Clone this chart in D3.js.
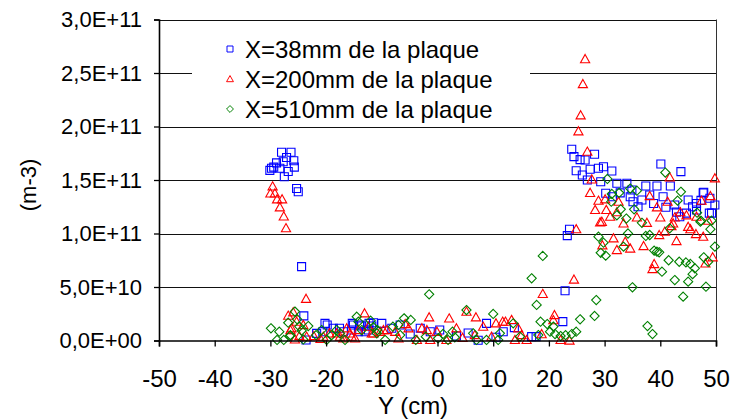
<!DOCTYPE html>
<html>
<head>
<meta charset="utf-8">
<script src="https://cdn.jsdelivr.net/npm/d3@7"></script>
<style>
  body { margin: 0; background: #fff; }
  svg { display: block; font-family: "Liberation Sans", Arial, sans-serif; }
</style>
</head>
<body>
<div id="chart"></div>
<script>
const WIDTH = 736;
const HEIGHT = 420;

// values: [Y in cm, density in units of 1e9 m-3]
const seriesNames = ['X=38mm de la plaque', 'X=200mm de la plaque', 'X=510mm de la plaque'];
const xTicks = [-50, -40, -30, -20, -10, 0, 10, 20, 30, 40, 50];
const yTicks = [0, 5e10, 1e11, 1.5e11, 2e11, 2.5e11, 3e11];

const x38 = [
  [-28.0,176],[-26.3,176],[-27.1,171],[-25.8,168],[-28.9,166],[-27.7,167],[-29.4,162],[-28.3,161],
  [-26.8,158],[-25.7,162],[-30.1,159],[-29.8,161],[-27.5,153],[-25.3,142],[-25.0,139],[-24.4,69],[-24.0,23],
  [-23.6,0.5],[-21.7,6.7],[-20.6,8.2],[-20.2,16],[-19.8,14.5],[-18.7,11.4],[-17.6,11.4],[-16.9,8.2],
  [-15.3,16],[-15.1,14.5],[-15.4,9.8],[-14.0,14.5],[-13.6,13.5],[-13.0,8.2],[-12.3,16],[-11.8,13.5],
  [-11.5,16.6],[-10.0,16],[-14.2,8.2],[-12.4,9.8],[-8.2,11.4],[-6.7,14.5],[-4.9,6.1],[-3.1,11.4],
  [-1.3,8.2],[0.4,9.8],[3.4,4.2],[5.5,7],[7.3,0.3],[8.8,16],[10.5,3],[11.8,8.2],[13.8,12],[16.9,3.6],
  [17.7,3.6],[22.5,17.6],[22.9,46.5],[23.3,98],[23.7,104],
  [24.1,178.7],[24.5,171.8],[25.6,169],[26.5,168.7],[28.2,174],[24.9,158.7],[26.0,154.7],[27.4,160],
  [28.9,161],[29.8,162.4],[31.3,158.4],[26.9,150],[29.3,148.4],[32.2,147],[34.0,147],[37.4,144.4],
  [39.4,144.4],[41.8,144.4],[40.1,165],[43.7,157.8],[47.8,138.5],[34.9,140.6],[30.2,137.6],[31.4,134.4],
  [32.8,138],[34.6,134.4],[35.1,129.7],[36.7,131.3],[38.1,136],[40.5,134.4],[41.0,124.5],[42.6,126.6],
  [45.0,131.3],[47.7,138],[48.9,133],[49.2,119],[46.5,122],[43.5,115.7],[44.7,119],[49.8,126.6],
  [48.8,119],[42.9,120],[46.5,128],[36.0,125],[38.8,128],[45.8,125],[47.3,131]
];

const x200 = [
  [-29.6,144],[-30.0,137.5],[-29.2,137.5],[-28.8,132],[-27.9,132],[-28.3,124.5],[-27.6,116],[-27.2,105],
  [-23.6,39],[-25.9,26.4],[-26.8,23.2],[-25.3,17.6],[-26.2,11.4],[-24.1,14.5],[-23.5,3.6],[-26.4,9.8],
  [-24.8,4.2],[-25.6,1],[-22.2,4.2],[-21.0,1.5],[-20.5,3.6],[-19.4,6.7],[-18.1,6.7],[-17.5,3.6],[-15.7,6.7],
  [-14.2,9.8],[-13.1,25.4],[-14.8,2],[-12.4,13],[-11.5,6.7],[-10.3,8.2],[-9.1,9.8],[-16.3,11.4],
  [-15.4,3.6],[-16.9,2],[-11.8,6.7],[-9.7,9.8],[-7.6,8.2],[-7.0,2],[-5.8,15.4],[-5.2,11.4],[-3.7,0.5],
  [-2.8,11.4],[-1.5,21.7],[-1.9,9.8],[-1.3,0.5],[-0.1,8.2],[1.6,0.5],[2.1,20.7],[3.4,11.4],[4.5,2.5],
  [5.2,27],[6.7,5.1],[6.9,21.7],[8.2,12.9],[9.7,3.6],[10.5,16.1],[11.7,17.6],[12.2,17.6],[13.3,19.2],
  [13.9,0.5],[14.5,11.4],[15.1,5.1],[16.0,0.5],
  [18.9,43.5],[21.0,23.8],[20.8,19],[18.7,6],[22.1,0.5],[23.7,0],[24.5,57],[24.9,104],
  [26.5,263],[26.1,239.7],[25.7,210.5],[25.3,195.5],[26.9,176.5],[27.7,150.6],[41.7,152.5],[49.8,151.6],
  [27.4,138],[38.1,135],[49.0,135],[28.9,130.7],[30.1,132],[32.5,129.7],[28.3,122],[30.3,122],
  [31.0,115.7],[29.5,111],[32.2,120],[33.4,109.5],[35.8,115],[37.6,110],[39.4,124.5],[40.0,115],
  [41.3,129.7],[42.6,115],[43.6,120],[44.7,117],[46.5,115.7],[47.4,130.7],[42.0,107],[45.0,106.3],
  [48.6,112],[29.2,110.5],[31.6,95.5],[29.6,89],[32.2,84.6],[33.7,92.3],[34.6,86],[37.0,88.3],
  [39.8,98.6],[42.9,93],[38.9,71.5],[38.6,66.8],[46.4,99.5],[47.7,97],[48.1,72],[49.4,77.8],
  [45.4,104],[40.8,101.7],[42.3,109.5]
];

const x510 = [
  [-29.9,11.4],[-28.4,8.2],[-28.8,0.5],[-27.6,0.5],[-26.4,5],[-24.4,9.2],[-23.2,13.5],[-25.6,27],
  [-26.8,16.6],[-25.2,19.8],[-24.8,13],[-26.5,4.2],[-24.1,1],[-21.8,5],[-20.8,9.8],[-19.9,0.5],
  [-19.0,5],[-18.1,9.8],[-17.5,6.7],[-16.6,0.5],[-14.5,22.2],[-14.2,17.6],[-12.0,18.5],[-13.6,9.8],
  [-11.5,12.3],[-10.9,6.7],[-9.4,0.5],[-10.8,9.8],[-8.0,12.9],[-7.0,14.5],[-6.0,20.7],[-4.8,19.2],
  [-6.7,5.1],[-3.9,0.5],[-2.1,3.6],[-1.5,43.2],[0.1,2],[1.0,6.1],[1.9,0.5],[2.7,8.2],[3.1,3],
  [5.2,28.5],[6.4,6.7],[7.0,0.5],[8.8,0.5],[10.0,24.8],[11.2,6.7],[10.9,0.5],[13.6,16.1],[14.8,3.6],
  [16.9,58.1],[17.8,33.2],[18.1,5.1],
  [18.9,79],[18.5,17.6],[19.7,15.4],[20.8,13],[20.2,8.2],[21.1,6],[22.1,4.2],[23.0,5],[24.1,6],
  [24.9,8.2],[25.6,19.8],[28.2,22.9],[28.5,37.8],[28.9,97],[29.8,91.4],[29.3,82],[30.2,79.3],
  [35.0,49.7],[33.4,87.7],[34.2,100],[37.7,13.5],[38.6,6],[38.9,84],[39.4,83],[41.5,75],[40.3,64.3],
  [42.6,56.5],[43.4,73.6],[44.6,73],[45.4,71.5],[46.2,67.5],[45.8,62],[45.0,55],[44.1,41],[48.2,50.3],
  [47.8,77.8],[48.6,73.6],[49.8,87.7],[49.0,104],[47.2,111],[38.1,98.6],[37.4,97.7],[39.8,82.4],
  [30.5,151],[31.3,137],[32.6,138],[31.2,129.7],[34.6,142],[35.8,140],[40.9,157],[43.7,139],
  [43.1,130.7],[32.9,122.6],[35.3,122.6],[32.2,117],[33.9,114],[36.7,110],[46.6,119.4],[47.3,112],
  [49.2,112],[41.7,104.8]
];

const LEFT = 159, RIGHT = 716, TOP = 19.5, BOTTOM = 340.5;

const x = d3.scaleLinear().domain([-50, 50]).range([LEFT, RIGHT]);
const y = d3.scaleLinear().domain([0, 3e11]).range([BOTTOM, TOP]);

// 3,0E+11 style
function sciFmt(v) {
  const [m, e] = v.toExponential(1).split('e');
  const sign = e[0] === '-' ? '-' : '+';
  const ex = Math.abs(+e).toString().padStart(2, '0');
  return m.replace('.', ',') + 'E' + sign + ex;
}

const shapes = {
  square: 'M-4,-4H4V4H-4Z',
  triangle: 'M0,-4.6L4.6,3.6H-4.6Z',
  diamond: 'M0,-4.6L4.6,0L0,4.6L-4.6,0Z'
};
const series = [
  { name: seriesNames[0], data: x38, color: '#0000ff', shape: shapes.square },
  { name: seriesNames[1], data: x200, color: '#ff0000', shape: shapes.triangle },
  { name: seriesNames[2], data: x510, color: '#008000', shape: shapes.diamond }
];

const svg = d3.select('#chart').append('svg')
  .attr('width', WIDTH)
  .attr('height', HEIGHT);

// grid lines
svg.append('g')
  .selectAll('line')
  .data(yTicks.slice(1))
  .join('line')
  .attr('x1', LEFT).attr('x2', RIGHT)
  .attr('y1', d => Math.round(y(d)) + 0.5)
  .attr('y2', d => Math.round(y(d)) + 0.5)
  .attr('stroke', '#111')
  .attr('stroke-width', 1);

// right border
svg.append('line')
  .attr('x1', RIGHT + 0.5).attr('x2', RIGHT + 0.5)
  .attr('y1', TOP).attr('y2', BOTTOM)
  .attr('stroke', '#333');

// legend (white box hides the grid line behind it)
const legend = svg.append('g');
legend.append('rect')
  .attr('x', 192).attr('y', 30)
  .attr('width', 338).attr('height', 92)
  .attr('fill', '#fff');

series.forEach((s, i) => {
  const ly = 49 + i * 30;
  legend.append('path')
    .attr('d', s.shape)
    .attr('transform', `translate(230, ${ly}) scale(0.75)`)
    .attr('fill', 'none')
    .attr('stroke', s.color)
    .attr('stroke-width', 1.3);
  legend.append('text')
    .attr('x', 245)
    .attr('y', ly + 8.5)
    .attr('font-size', 24)
    .attr('fill', '#000')
    .text(s.name);
});

// points
series.forEach(s => {
  svg.append('g')
    .selectAll('path')
    .data(s.data)
    .join('path')
    .attr('d', s.shape)
    .attr('transform', d => `translate(${x(d[0])}, ${y(d[1] * 1e9)})`)
    .attr('fill', 'none')
    .attr('stroke', s.color)
    .attr('stroke-width', 1.1);
});

// axes
const yAxis = svg.append('g')
  .attr('transform', `translate(${LEFT}, 0)`)
  .call(d3.axisLeft(y).tickValues(yTicks).tickFormat(sciFmt).tickSize(5).tickPadding(12));

const xAxis = svg.append('g')
  .attr('transform', `translate(0, ${BOTTOM})`)
  .call(d3.axisBottom(x).tickValues(xTicks).tickFormat(d => String(d)).tickSize(6).tickPadding(23));

[yAxis, xAxis].forEach(a => {
  a.select('.domain').attr('stroke', '#000').attr('stroke-width', 1.6);
  a.selectAll('.tick line').attr('stroke', '#000').attr('stroke-width', 1.3);
  a.selectAll('text').attr('fill', '#000').attr('font-family', '"Liberation Sans", Arial, sans-serif');
});
yAxis.selectAll('text').attr('font-size', 22);
xAxis.selectAll('text').attr('font-size', 24);

// axis titles
svg.append('text')
  .attr('x', 413)
  .attr('y', 414)
  .attr('text-anchor', 'middle')
  .attr('font-size', 24)
  .text('Y (cm)');

svg.append('text')
  .attr('transform', 'translate(36, 185) rotate(-90)')
  .attr('text-anchor', 'middle')
  .attr('font-size', 22)
  .text('(m-3)');
</script>
</body>
</html>
